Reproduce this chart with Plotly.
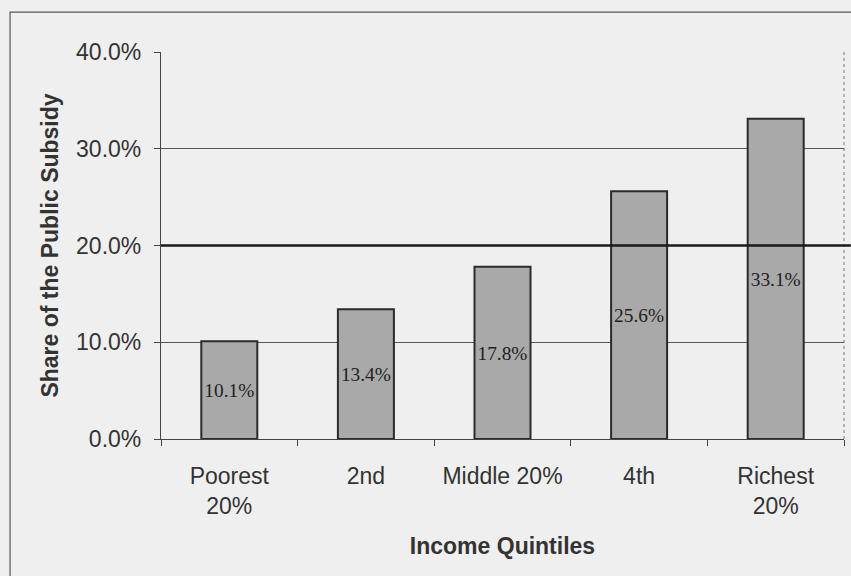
import plotly.graph_objects as go

# Share of the public subsidy received by each income quintile
quintiles = ["Poorest<br>20%", "2nd", "Middle 20%", "4th", "Richest<br>20%"]
subsidy_share = [10.1, 13.4, 17.8, 25.6, 33.1]
equal_share = 20.0
y_ticks = [0, 10, 20, 30, 40]

bg = "#efefef"
ink = "#2b2b2b"
label_color = "#333333"

fig = go.Figure(
    go.Bar(
        x=quintiles,
        y=subsidy_share,
        width=0.41,
        marker=dict(color="#a9a9a9", line=dict(color=ink, width=2)),
        text=[f"{v:.1f}%" for v in subsidy_share],
        textposition="inside",
        insidetextanchor="middle",
        textangle=0,
        textfont=dict(family="Liberation Serif", size=20, color="#1e1e1e"),
        cliponaxis=False,
    )
)

# Reference line for an equal 20% share
fig.add_shape(type="line", xref="paper", yref="y", x0=0, x1=1.01,
              y0=equal_share, y1=equal_share, line=dict(color="#1a1a1a", width=2.5))

# Right border of the plot area and the outer chart frame
fig.add_shape(type="line", xref="paper", yref="paper", x0=1, x1=1, y0=0, y1=1,
              line=dict(color="#777777", width=1, dash="dot"), layer="below")
fig.add_shape(type="rect", xref="paper", yref="paper", x0=-0.221, x1=1.2,
              y0=-0.6, y1=1.103, line=dict(color="#555555", width=1.2), layer="below")

fig.update_layout(
    width=851, height=576,
    margin=dict(l=161, r=7, t=52, b=137),
    paper_bgcolor=bg, plot_bgcolor=bg,
    showlegend=False,
    bargap=0.59,
    font=dict(family="Liberation Sans", size=23, color=label_color),
    xaxis=dict(
        showline=True, linecolor="#444444", linewidth=1.2,
        ticks="outside", tickson="boundaries", ticklen=6, tickcolor="#444444",
        tickfont=dict(size=23, color=label_color),
        ticklabelstandoff=16,
        title=dict(text="<b>Income Quintiles</b>", font=dict(size=23, color=label_color), standoff=20),
    ),
    yaxis=dict(
        range=[0, 40], tickvals=y_ticks,
        ticktext=[f"{v:.1f}%" for v in y_ticks],
        showline=True, linecolor="#444444", linewidth=1.2,
        showgrid=True, gridcolor="#555555", gridwidth=1,
        ticks="outside", ticklen=6, tickcolor="#444444",
        tickfont=dict(size=23, color=label_color),
        ticklabelstandoff=8,
        zeroline=False,
        title=dict(text="<b>Share of the Public Subsidy</b>", font=dict(size=23, color=label_color), standoff=11),
    ),
)

fig.write_html("out.html")
